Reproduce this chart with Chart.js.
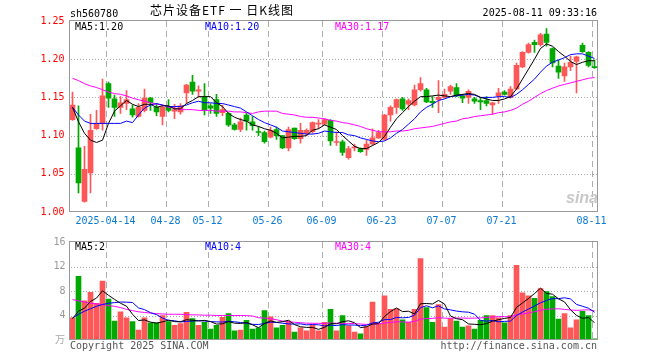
<!DOCTYPE html>
<html><head><meta charset="utf-8">
<script src="https://cdn.jsdelivr.net/npm/chart.js@4/dist/chart.umd.min.js"></script>
<style>
html,body{margin:0;padding:0;background:#fff;width:660px;height:360px;overflow:hidden;}
body{position:relative;font-family:"DejaVu Sans Mono",monospace;}
.t{position:absolute;font-size:10px;line-height:10px;white-space:pre;}
canvas{position:absolute;left:0;}
</style></head><body>
<canvas id="k" width="660" height="232" style="top:0"></canvas>
<canvas id="v" width="660" height="128" style="top:232px"></canvas>
<div class="t" style="left:70px;top:9px;color:#000">sh560780</div>
<div class="t" style="left:150px;top:4px;font-size:12px;line-height:12px;font-family:'Noto Sans CJK SC';letter-spacing:1px;color:#000">芯片设备ETF 一 日K线图</div>
<div class="t" style="right:63px;top:8px;color:#000">2025-08-11 09:33:16</div>
<div class="t" style="left:75px;top:22px;color:#000">MA5:1.20</div>
<div class="t" style="left:205px;top:22px;color:#0000ff">MA10:1.20</div>
<div class="t" style="left:335px;top:22px;color:#ff00ff">MA30:1.17</div>
<div class="t" style="left:75px;top:242px;color:#000">MA5:2</div>
<div class="t" style="left:205px;top:242px;color:#0000ff">MA10:4</div>
<div class="t" style="left:335px;top:242px;color:#ff00ff">MA30:4</div>
<div class="t" style="left:55px;top:334px;color:#aaa;font-family:'Noto Sans CJK SC';font-size:10px">万</div>
<div class="t" style="left:70px;top:341px;color:#555">Copyright 2025 SINA.COM</div>
<div class="t" style="right:63px;top:341px;color:#555">http://finance.sina.com.cn</div>
<div class="t" style="left:566px;top:190px;color:#c8c8c8;font:italic bold 16px 'Liberation Sans',sans-serif;line-height:16px">sina</div>
<script>
// ---- categories (trading days) ----
const dates = ['2025-04-03','2025-04-07','2025-04-08','2025-04-09','2025-04-10','2025-04-11','2025-04-14','2025-04-15','2025-04-16','2025-04-17',
'2025-04-18','2025-04-21','2025-04-22','2025-04-23','2025-04-24','2025-04-25','2025-04-28','2025-04-29','2025-04-30','2025-05-06',
'2025-05-07','2025-05-08','2025-05-09','2025-05-12','2025-05-13','2025-05-14','2025-05-15','2025-05-16','2025-05-19','2025-05-20',
'2025-05-21','2025-05-22','2025-05-23','2025-05-26','2025-05-27','2025-05-28','2025-05-29','2025-05-30','2025-06-03','2025-06-04',
'2025-06-05','2025-06-06','2025-06-09','2025-06-10','2025-06-11','2025-06-12','2025-06-13','2025-06-16','2025-06-17','2025-06-18',
'2025-06-19','2025-06-20','2025-06-23','2025-06-24','2025-06-25','2025-06-26','2025-06-27','2025-06-30','2025-07-01','2025-07-02',
'2025-07-03','2025-07-04','2025-07-07','2025-07-08','2025-07-09','2025-07-10','2025-07-11','2025-07-14','2025-07-15','2025-07-16',
'2025-07-17','2025-07-18','2025-07-21','2025-07-22','2025-07-23','2025-07-24','2025-07-25','2025-07-28','2025-07-29','2025-07-30',
'2025-07-31','2025-08-01','2025-08-04','2025-08-05','2025-08-06','2025-08-07','2025-08-08','2025-08-11'];
// tick labels
const tickDates = ['2025-04-14','2025-04-28','2025-05-12','2025-05-26','2025-06-09','2025-06-23','2025-07-07','2025-07-21','2025-08-11'];
const tickText  = ['2025-04-14','04-28','05-12','05-26','06-09','06-23','07-07','07-21','08-11'];
const priceTicks = [1.00,1.05,1.10,1.15,1.20,1.25];
const volTicks = [4,8,12,16];
// ---- daily OHLC ----
const open = [1.121,1.084,1.014,1.051,1.109,1.116,1.168,1.148,1.137,1.142,
1.135,1.125,1.133,1.149,1.137,1.125,1.137,1.132,1.131,1.156,
1.170,1.158,1.150,1.139,1.147,1.130,1.129,1.114,1.108,1.127,
1.118,1.105,1.104,1.098,1.108,1.100,1.084,1.110,1.096,1.103,
1.105,1.115,1.115,1.120,1.091,1.092,1.071,1.084,1.083,1.082,
1.089,1.097,1.095,1.127,1.137,1.148,1.141,1.140,1.160,1.160,
1.145,1.147,1.150,1.158,1.163,1.152,1.150,1.148,1.146,1.146,
1.140,1.152,1.157,1.150,1.161,1.190,1.209,1.222,1.219,1.233,
1.214,1.191,1.178,1.190,1.197,1.218,1.209,1.190];
const high = [1.157,1.139,1.086,1.128,1.133,1.174,1.170,1.153,1.151,1.159,
1.140,1.142,1.161,1.150,1.142,1.140,1.147,1.141,1.142,1.167,
1.179,1.165,1.168,1.142,1.154,1.140,1.130,1.116,1.123,1.129,
1.125,1.112,1.106,1.111,1.111,1.100,1.111,1.110,1.116,1.109,
1.118,1.121,1.122,1.121,1.105,1.094,1.086,1.089,1.084,1.094,
1.109,1.107,1.128,1.139,1.148,1.150,1.148,1.166,1.176,1.162,
1.151,1.172,1.161,1.166,1.168,1.154,1.160,1.150,1.150,1.151,
1.144,1.162,1.159,1.164,1.195,1.210,1.221,1.225,1.234,1.240,
1.215,1.199,1.195,1.204,1.204,1.221,1.210,1.199];
const low = [1.120,1.025,1.013,1.025,1.108,1.107,1.137,1.125,1.129,1.134,
1.124,1.124,1.131,1.133,1.126,1.114,1.131,1.122,1.128,1.142,
1.154,1.150,1.127,1.129,1.125,1.126,1.112,1.107,1.105,1.107,
1.107,1.100,1.090,1.097,1.095,1.083,1.080,1.095,1.090,1.100,
1.103,1.109,1.114,1.087,1.087,1.074,1.069,1.080,1.078,1.074,
1.087,1.096,1.094,1.119,1.129,1.133,1.134,1.139,1.158,1.143,
1.137,1.130,1.149,1.154,1.151,1.143,1.142,1.142,1.134,1.139,
1.128,1.142,1.153,1.149,1.160,1.189,1.208,1.209,1.217,1.217,
1.190,1.175,1.171,1.185,1.156,1.209,1.190,1.188];
const close = [1.140,1.038,1.056,1.107,1.116,1.152,1.149,1.137,1.143,1.147,
1.127,1.137,1.149,1.143,1.131,1.137,1.133,1.134,1.139,1.166,
1.158,1.160,1.133,1.136,1.129,1.134,1.114,1.108,1.118,1.119,
1.113,1.104,1.092,1.107,1.100,1.084,1.108,1.096,1.107,1.107,
1.117,1.116,1.121,1.093,1.092,1.078,1.083,1.085,1.079,1.089,
1.097,1.104,1.127,1.137,1.147,1.135,1.146,1.160,1.168,1.144,
1.143,1.150,1.154,1.164,1.152,1.149,1.158,1.145,1.144,1.142,
1.143,1.156,1.154,1.161,1.192,1.209,1.219,1.219,1.232,1.222,
1.195,1.183,1.190,1.196,1.203,1.210,1.192,1.189];
// ---- price moving averages ----
const ma5 = [1.137,1.118,1.103,1.094,1.091,1.094,1.116,1.132,1.139,1.146,
1.141,1.138,1.141,1.141,1.137,1.139,1.139,1.135,1.135,1.142,
1.146,1.151,1.151,1.151,1.143,1.138,1.129,1.124,1.121,1.119,
1.114,1.112,1.109,1.107,1.103,1.097,1.098,1.099,1.099,1.100,
1.107,1.109,1.114,1.111,1.108,1.100,1.093,1.086,1.083,1.083,
1.087,1.091,1.099,1.111,1.122,1.130,1.138,1.145,1.151,1.151,
1.152,1.153,1.152,1.151,1.153,1.154,1.155,1.154,1.150,1.148,
1.146,1.146,1.148,1.151,1.161,1.174,1.187,1.200,1.214,1.220,
1.217,1.210,1.204,1.197,1.193,1.196,1.198,1.198];
const ma10 = [1.137,1.127,1.119,1.116,1.116,1.116,1.116,1.116,1.116,1.119,
1.117,1.127,1.136,1.140,1.142,1.140,1.138,1.138,1.138,1.140,
1.143,1.145,1.143,1.143,1.142,1.142,1.140,1.138,1.136,1.131,
1.126,1.121,1.117,1.114,1.111,1.106,1.105,1.104,1.103,1.102,
1.102,1.103,1.106,1.105,1.104,1.104,1.101,1.100,1.097,1.095,
1.093,1.092,1.093,1.097,1.103,1.108,1.115,1.122,1.131,1.137,
1.141,1.146,1.148,1.151,1.152,1.153,1.154,1.153,1.150,1.150,
1.150,1.151,1.151,1.150,1.154,1.160,1.167,1.174,1.183,1.191,
1.196,1.199,1.202,1.206,1.207,1.207,1.204,1.201];
const ma30 = [1.175,1.172,1.168,1.165,1.163,1.160,1.157,1.155,1.154,1.152,
1.149,1.147,1.145,1.143,1.141,1.140,1.137,1.136,1.134,1.134,
1.134,1.133,1.133,1.133,1.132,1.132,1.132,1.131,1.131,1.130,
1.129,1.131,1.132,1.132,1.132,1.129,1.128,1.127,1.125,1.124,
1.124,1.123,1.122,1.120,1.119,1.117,1.116,1.114,1.112,1.109,
1.107,1.105,1.105,1.105,1.106,1.106,1.107,1.109,1.110,1.111,
1.112,1.114,1.116,1.118,1.119,1.122,1.123,1.125,1.126,1.127,
1.128,1.130,1.131,1.133,1.136,1.141,1.145,1.150,1.155,1.159,
1.162,1.165,1.167,1.169,1.171,1.173,1.175,1.176];
// ---- volume (万) ----
const vol = [3.6,10.4,6.4,7.8,6.0,9.6,6.7,3.1,4.6,3.6,
3.0,1.6,3.6,2.8,2.8,4.0,3.0,2.4,2.7,4.5,
3.5,2.4,2.9,1.8,2.4,3.7,4.3,1.5,1.6,3.2,
1.8,2.0,4.8,3.8,2.0,2.4,3.1,1.3,2.0,1.5,
2.4,1.5,2.9,5.0,1.5,4.0,2.3,1.3,1.0,2.2,
6.2,2.6,7.2,5.0,5.1,3.3,2.9,5.0,13.3,5.3,
2.9,5.8,2.1,3.5,3.1,2.1,2.3,1.8,3.2,4.0,
4.0,3.6,2.8,4.0,12.2,7.7,7.2,6.8,8.4,7.9,
7.1,3.4,4.3,2.0,3.3,4.7,4.0,0.2];
const vma5 = [3.5,4.7,5.2,6.3,6.84,8.04,7.30,6.64,6.00,5.52,
4.20,3.18,3.28,2.92,2.76,2.96,3.24,3.00,2.98,3.32,
3.22,3.10,3.20,3.02,2.60,2.64,3.02,2.74,2.70,2.86,
2.48,2.02,2.68,3.12,2.88,3.00,3.22,2.52,2.16,2.06,
2.06,1.74,2.06,2.66,2.66,2.98,3.14,2.82,2.02,2.16,
2.60,2.66,3.84,4.64,5.22,4.64,4.70,4.26,5.92,5.96,
5.88,6.46,5.88,3.92,3.48,3.32,2.62,2.56,2.50,2.68,
3.06,3.32,3.52,3.68,5.32,6.06,6.78,7.58,8.46,7.60,
7.48,6.72,6.22,4.94,4.02,3.54,3.66,2.84];
const vma10 = [3.6,4.2,4.7,5.1,5.5,5.8,6.0,6.1,6.2,6.18,
6.12,5.24,4.96,4.46,4.14,3.58,3.21,3.14,2.95,3.04,
3.09,3.17,3.10,3.00,2.96,2.93,3.06,2.97,2.86,2.73,
2.56,2.52,2.71,2.91,2.87,2.74,2.62,2.60,2.64,2.47,
2.53,2.48,2.29,2.41,2.36,2.52,2.44,2.44,2.34,2.41,
2.79,2.90,3.33,3.33,3.69,3.62,3.68,4.05,5.28,5.59,
5.26,5.58,5.07,4.92,4.72,4.60,4.54,4.22,3.21,3.08,
3.19,2.97,3.04,3.09,4.00,4.56,5.05,5.55,6.07,6.46,
6.77,6.75,6.90,6.70,5.81,5.51,5.19,4.53];
const vma30 = [6.6,6.4,6.2,6.0,5.9,5.8,5.6,5.5,5.3,5.0,
4.8,4.6,4.5,4.4,4.3,4.25,4.2,4.2,4.2,4.15,
4.1,4.1,4.05,4.05,4.0,4.0,4.0,4.0,4.0,3.98,
3.92,3.64,3.59,3.46,3.32,3.08,2.96,2.90,2.82,2.75,
2.73,2.72,2.70,2.77,2.73,2.73,2.71,2.67,2.61,2.54,
2.63,2.63,2.78,2.88,2.97,2.96,2.91,3.03,3.42,3.49,
3.53,3.65,3.56,3.55,3.59,3.58,3.55,3.57,3.61,3.69,
3.75,3.82,3.81,3.78,4.14,4.26,4.42,4.61,4.85,5.04,
5.07,5.10,5.00,4.90,4.84,4.89,4.93,4.77];

// ---- styling ----
const UP = '#ff5757', DOWN = '#00a900';
const cColor = close.map((c,i)=> c >= open[i] ? UP : DOWN);
const tickIndex = {};
tickDates.forEach((d,k)=>{ tickIndex[dates.indexOf(d)] = tickText[k]; });
Chart.defaults.font.family = '"DejaVu Sans Mono", monospace';
Chart.defaults.font.size = 10;

// frame + dotted/dashed grid, positioned by the chart's own scales
const frame = {id:'frame',
  beforeDatasetsDraw(c){
    const a = c.chartArea, ctx = c.ctx, xs = c.scales.x, ys = c.scales.y;
    const L = Math.floor(a.left), R = Math.floor(a.right), T = Math.round(a.top), B = Math.round(a.bottom);
    ctx.save();
    ctx.fillStyle = '#a8a8a8';
    ys.ticks.forEach(t => {
      const y = Math.round(ys.getPixelForValue(t.value));
      if (y > T + 1 && y < B - 1) { for (let x = L + 2; x < R; x += 3) ctx.fillRect(x, y, 1, 1); }
    });
    ctx.fillStyle = '#adadad';
    const half = (xs.getPixelForValue(1) - xs.getPixelForValue(0)) / 2;
    Object.keys(tickIndex).forEach(k => {
      const x = Math.round(xs.getPixelForValue(+k) - half);
      for (let y = T; y < B; y += 10) ctx.fillRect(x, y, 1, Math.min(6, B - y));
    });
    ctx.restore();
  },
  afterDraw(c){
    const a = c.chartArea, x = c.ctx;
    x.save(); x.strokeStyle = '#999'; x.lineWidth = 1;
    const L = Math.floor(a.left)+0.5, R = Math.floor(a.right)+0.5, T = a.top-0.5, B = a.bottom-0.5;
    x.strokeRect(L, T, R-L, B-T); x.restore();
  }};

function xAxis(showLabels){
  return {
    type:'category', offset:true,
    grid:{display:false, offset:true, drawTicks:false},
    border:{display:false},
    ticks:{display:showLabels, autoSkip:false, maxRotation:0, minRotation:0, padding:3, labelOffset:-3,
      color:'#0a7ad4', callback:(v,i)=> tickIndex[i] || ''},
    afterFit: s => { s.height = 20; }
  };
}
function line(data, color){
  return {type:'line', data, borderColor:color, borderWidth:1, pointRadius:0, tension:0, fill:false, order:0};
}

new Chart(document.getElementById('k'), {
  type:'bar',
  data:{labels:dates, datasets:[
    line(ma5,'#000000'), line(ma10,'#0000ff'), line(ma30,'#ff00ff'),
    {type:'bar', data: open.map((o,i)=>[o, close[i]]), backgroundColor:cColor, barThickness:5, grouped:false, minBarLength:1, order:1},
    {type:'bar', data: low.map((l,i)=>[l, high[i]]), backgroundColor:cColor, barThickness:1, grouped:false, order:2}
  ]},
  options:{
    responsive:false, animation:false, events:[],
    layout:{padding:{top:21, right:62.5, left:0, bottom:0}},
    plugins:{legend:{display:false}, tooltip:{enabled:false}},
    scales:{
      x: xAxis(true),
      y: {min:priceTicks[0], max:priceTicks[priceTicks.length-1],
        afterBuildTicks: s => { s.ticks = priceTicks.map(v=>({value:v})); },
        ticks:{color:'#ff0000', padding:5, callback:v=>Number(v).toFixed(2)},
        grid:{display:false, drawTicks:false},
        border:{display:false},
        afterFit: s => { s.width = 69.5; }}
    }
  },
  plugins:[frame]
});

new Chart(document.getElementById('v'), {
  type:'bar',
  data:{labels:dates, datasets:[
    line(vma5,'#000000'), line(vma10,'#0000ff'), line(vma30,'#ff00ff'),
    {type:'bar', data:vol, backgroundColor:cColor, barThickness:5, grouped:false, order:1}
  ]},
  options:{
    responsive:false, animation:false, events:[],
    layout:{padding:{top:8, right:62.5, left:0, bottom:0}},
    plugins:{legend:{display:false}, tooltip:{enabled:false}},
    scales:{
      x: xAxis(false),
      y: {min:0, max:16,
        afterBuildTicks: s => { s.ticks = [0].concat(volTicks).map(v=>({value:v})); },
        ticks:{color:'#999', padding:4, callback:v=> v===0 ? '' : String(v)},
        grid:{display:false, drawTicks:false},
        border:{display:false},
        afterFit: s => { s.width = 69.5; }}
    }
  },
  plugins:[frame]
});
</script>
</body></html>
